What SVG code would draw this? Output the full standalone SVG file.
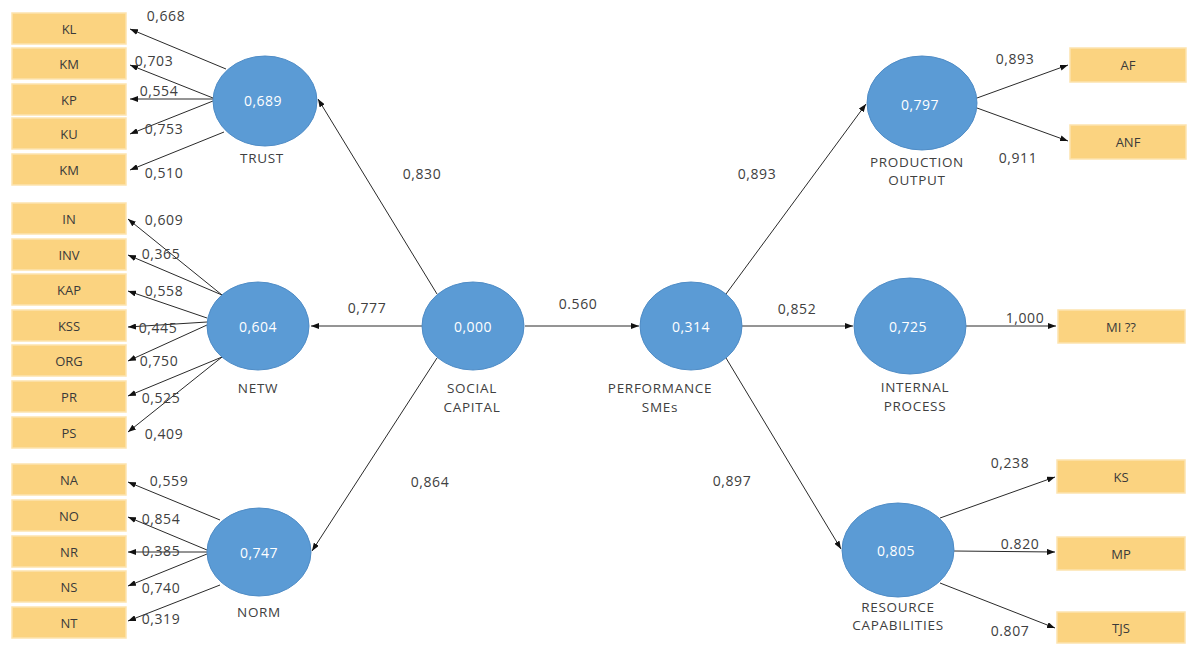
<svg xmlns="http://www.w3.org/2000/svg" width="1188" height="645" viewBox="0 0 1188 645">
<defs>
<marker id="ah" markerWidth="8" markerHeight="6" refX="8" refY="3" orient="auto" markerUnits="userSpaceOnUse"><path d="M0,0 L8,3 L0,6 z" fill="#111"/></marker>
<style>
.box{fill:#FBD380;stroke:#FDE3AE;stroke-width:1.5}
.bt{font-family:"Open Sans","Liberation Sans",sans-serif;font-size:13px;fill:#3a3a3a;text-anchor:middle;dominant-baseline:central}
.lv{fill:#5B9BD5;stroke:#4F8CC6;stroke-width:1}
.lvt{font-family:"Open Sans","Liberation Sans",sans-serif;font-size:14px;letter-spacing:0.5px;fill:#ffffff;text-anchor:middle;dominant-baseline:central}
.nl{font-family:"Open Sans","Liberation Sans",sans-serif;font-size:13.5px;letter-spacing:0.7px;fill:#404040;text-anchor:middle;dominant-baseline:central}
.w{font-family:"Open Sans","Liberation Sans",sans-serif;font-size:14px;letter-spacing:0.6px;fill:#404040;text-anchor:middle;dominant-baseline:central}
.c line{stroke:#2a2a2a;stroke-width:1;marker-end:url(#ah)}
</style>
</defs>
<rect width="1188" height="645" fill="#ffffff"/>

<g id="box-KL"><rect class="box" x="12" y="13" width="114" height="31"/><text class="bt" x="69" y="28.5">KL</text></g>
<g id="box-KM1"><rect class="box" x="12" y="48" width="114" height="31"/><text class="bt" x="69" y="63.5">KM</text></g>
<g id="box-KP"><rect class="box" x="12" y="84" width="114" height="31"/><text class="bt" x="69" y="99.5">KP</text></g>
<g id="box-KU"><rect class="box" x="12" y="118" width="114" height="31"/><text class="bt" x="69" y="133.5">KU</text></g>
<g id="box-KM2"><rect class="box" x="12" y="154" width="114" height="31"/><text class="bt" x="69" y="169.5">KM</text></g>

<g id="box-IN"><rect class="box" x="12" y="203" width="114" height="31"/><text class="bt" x="69" y="218.5">IN</text></g>
<g id="box-INV"><rect class="box" x="12" y="239" width="114" height="31"/><text class="bt" x="69" y="254.5">INV</text></g>
<g id="box-KAP"><rect class="box" x="12" y="274" width="114" height="31"/><text class="bt" x="69" y="289.5">KAP</text></g>
<g id="box-KSS"><rect class="box" x="12" y="310" width="114" height="31"/><text class="bt" x="69" y="325.5">KSS</text></g>
<g id="box-ORG"><rect class="box" x="12" y="345" width="114" height="31"/><text class="bt" x="69" y="360.5">ORG</text></g>
<g id="box-PR"><rect class="box" x="12" y="381" width="114" height="31"/><text class="bt" x="69" y="396.5">PR</text></g>
<g id="box-PS"><rect class="box" x="12" y="417" width="114" height="31"/><text class="bt" x="69" y="432.5">PS</text></g>

<g id="box-NA"><rect class="box" x="12" y="464" width="114" height="31"/><text class="bt" x="69" y="479.5">NA</text></g>
<g id="box-NO"><rect class="box" x="12" y="500" width="114" height="31"/><text class="bt" x="69" y="515.5">NO</text></g>
<g id="box-NR"><rect class="box" x="12" y="536" width="114" height="31"/><text class="bt" x="69" y="551.5">NR</text></g>
<g id="box-NS"><rect class="box" x="12" y="571" width="114" height="31"/><text class="bt" x="69" y="586.5">NS</text></g>
<g id="box-NT"><rect class="box" x="12" y="607" width="114" height="31"/><text class="bt" x="69" y="622.5">NT</text></g>

<g id="box-AF"><rect class="box" x="1070" y="48" width="116" height="34"/><text class="bt" x="1128" y="65">AF</text></g>
<g id="box-ANF"><rect class="box" x="1070" y="125" width="116" height="34"/><text class="bt" x="1128" y="142">ANF</text></g>
<g id="box-MI"><rect class="box" x="1058" y="310" width="127" height="33"/><text class="bt" x="1121" y="326.5">MI ??</text></g>
<g id="box-KS"><rect class="box" x="1057" y="460" width="128" height="33"/><text class="bt" x="1121" y="476.5">KS</text></g>
<g id="box-MP"><rect class="box" x="1057" y="537" width="128" height="33"/><text class="bt" x="1121" y="553.5">MP</text></g>
<g id="box-TJS"><rect class="box" x="1057" y="612" width="128" height="31"/><text class="bt" x="1121" y="627.5">TJS</text></g>

<g class="c" id="connectors">
<line x1="226" y1="69" x2="130" y2="29"/>
<line x1="213" y1="98" x2="130" y2="65"/>
<line x1="213" y1="99" x2="130" y2="99"/>
<line x1="213" y1="101" x2="130" y2="134"/>
<line x1="224" y1="132" x2="130" y2="170"/>
<line x1="222" y1="295" x2="128" y2="219"/>
<line x1="222" y1="295" x2="128" y2="255"/>
<line x1="207" y1="318" x2="128" y2="291"/>
<line x1="207" y1="322" x2="128" y2="327"/>
<line x1="207" y1="325" x2="128" y2="361"/>
<line x1="222" y1="357" x2="128" y2="396"/>
<line x1="222" y1="357" x2="128" y2="432"/>
<line x1="220" y1="520" x2="128" y2="482"/>
<line x1="207" y1="550" x2="128" y2="517"/>
<line x1="207" y1="552" x2="128" y2="552"/>
<line x1="207" y1="554" x2="128" y2="586"/>
<line x1="220" y1="585" x2="128" y2="621"/>
<line x1="437" y1="294" x2="318" y2="99"/>
<line x1="422" y1="326" x2="311" y2="326"/>
<line x1="437" y1="358" x2="312" y2="551"/>
<line x1="525" y1="326" x2="639" y2="326"/>
<line x1="726" y1="294" x2="866" y2="104"/>
<line x1="742" y1="326" x2="853" y2="326"/>
<line x1="726" y1="358" x2="841" y2="549"/>
<line x1="977" y1="98" x2="1068" y2="65"/>
<line x1="977" y1="108" x2="1068" y2="141"/>
<line x1="966" y1="326" x2="1056" y2="326"/>
<line x1="940" y1="518" x2="1055" y2="477"/>
<line x1="954" y1="551" x2="1055" y2="552"/>
<line x1="940" y1="583" x2="1055" y2="628"/>
</g>

<g id="weights">
<text class="w" x="166" y="15">0,668</text>
<text class="w" x="154" y="60">0,703</text>
<text class="w" x="159" y="90">0,554</text>
<text class="w" x="164" y="128">0,753</text>
<text class="w" x="164" y="172">0,510</text>
<text class="w" x="164" y="219">0,609</text>
<text class="w" x="161" y="253">0,365</text>
<text class="w" x="164" y="290">0,558</text>
<text class="w" x="158" y="327">0,445</text>
<text class="w" x="159" y="360">0,750</text>
<text class="w" x="161" y="397">0,525</text>
<text class="w" x="164" y="433">0,409</text>
<text class="w" x="169" y="480">0,559</text>
<text class="w" x="161" y="518">0,854</text>
<text class="w" x="161" y="550">0,385</text>
<text class="w" x="161" y="587">0,740</text>
<text class="w" x="161" y="618">0,319</text>
<text class="w" x="422" y="173">0,830</text>
<text class="w" x="367" y="307">0,777</text>
<text class="w" x="578" y="303">0.560</text>
<text class="w" x="430" y="481">0,864</text>
<text class="w" x="757" y="173">0,893</text>
<text class="w" x="797" y="308">0,852</text>
<text class="w" x="732" y="480">0,897</text>
<text class="w" x="1015" y="58">0,893</text>
<text class="w" x="1018" y="157">0,911</text>
<text class="w" x="1025" y="317">1,000</text>
<text class="w" x="1010" y="462">0,238</text>
<text class="w" x="1020" y="543">0.820</text>
<text class="w" x="1010" y="630">0.807</text>
</g>

<g id="TRUST"><ellipse class="lv" cx="265" cy="101" rx="52" ry="45"/><text class="lvt" x="263" y="100">0,689</text><text class="nl" x="262" y="158">TRUST</text></g>
<g id="NETW"><ellipse class="lv" cx="258" cy="326" rx="51" ry="44"/><text class="lvt" x="258" y="326">0,604</text><text class="nl" x="258" y="388">NETW</text></g>
<g id="NORM"><ellipse class="lv" cx="259" cy="552" rx="52" ry="44"/><text class="lvt" x="259" y="552">0,747</text><text class="nl" x="259" y="612">NORM</text></g>
<g id="SOCIAL_CAPITAL"><ellipse class="lv" cx="473" cy="326" rx="51" ry="44"/><text class="lvt" x="473" y="326">0,000</text><text class="nl" x="472" y="388">SOCIAL</text><text class="nl" x="472" y="407">CAPITAL</text></g>
<g id="PERFORMANCE_SMEs"><ellipse class="lv" cx="691" cy="326" rx="51" ry="44"/><text class="lvt" x="691" y="326">0,314</text><text class="nl" x="660" y="388">PERFORMANCE</text><text class="nl" x="660" y="407">SMEs</text></g>
<g id="PRODUCTION_OUTPUT"><ellipse class="lv" cx="922" cy="103" rx="55" ry="47"/><text class="lvt" x="920" y="104">0,797</text><text class="nl" x="917" y="162">PRODUCTION</text><text class="nl" x="917" y="180">OUTPUT</text></g>
<g id="INTERNAL_PROCESS"><ellipse class="lv" cx="910" cy="326" rx="56" ry="48"/><text class="lvt" x="908" y="326">0,725</text><text class="nl" x="915" y="387">INTERNAL</text><text class="nl" x="915" y="406">PROCESS</text></g>
<g id="RESOURCE_CAPABILITIES"><ellipse class="lv" cx="898" cy="550" rx="56" ry="47"/><text class="lvt" x="896" y="550">0,805</text><text class="nl" x="898" y="607">RESOURCE</text><text class="nl" x="898" y="625">CAPABILITIES</text></g>
</svg>
